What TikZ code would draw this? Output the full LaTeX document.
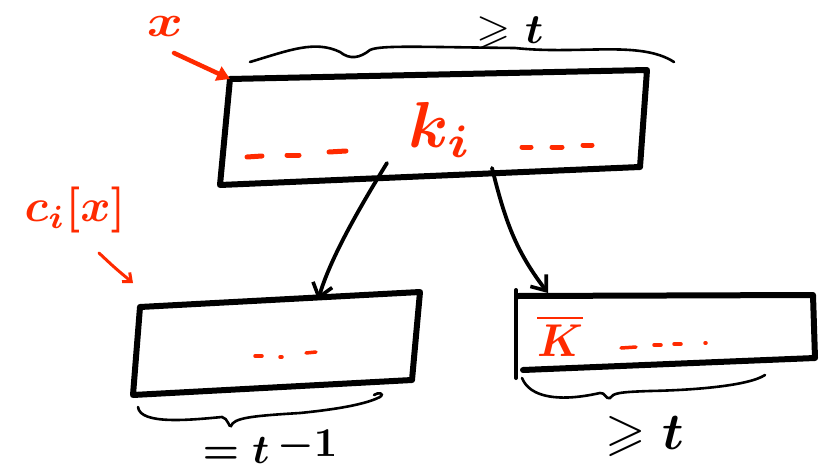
\documentclass[tikz,border=0pt]{standalone}
\usepackage{graphicx}
\usepackage{amssymb}
\usetikzlibrary{arrows.meta}
\definecolor{pen}{HTML}{FF2A00}
\tikzset{
  boxline/.style={line width=6pt, line join=round, line cap=round},
  link/.style={line width=3.8pt, line cap=round, -{Straight Barb[length=13pt,width=20pt,line width=3.6pt]}},
  redarrow/.style={pen, line width=4.5pt, line cap=round, -{Triangle[length=13pt,width=15pt]}},
  redsmall/.style={pen, line width=3pt, line cap=round, -{Straight Barb[length=7pt,width=12pt,line width=3pt]}},
  brace/.style={line width=2.6pt, line cap=round},
  reddash/.style={pen, line width=5pt, line cap=round},
  reddot/.style={pen, line width=3.5pt, line cap=round},
  redtxt/.style={text=pen, inner sep=1pt},
  blacktxt/.style={inner sep=1pt},
}
\newcommand{\hugetxt}[3]{\scalebox{#1}[#2]{$#3$}}
\begin{document}
\boldmath
\begin{tikzpicture}[x=1pt,y=-1pt]
\useasboundingbox (0,0) rectangle (825,474);
% top box
\coordinate (a1) at (230,79);
\coordinate (a2) at (647,70);
\coordinate (a3) at (640,167);
\coordinate (a4) at (220,185);
\draw[boxline] (a1) -- (a2) -- (a3) -- (a4) -- cycle;
% bottom-left box
\coordinate (b1) at (140,307);
\coordinate (b2) at (420,292);
\coordinate (b3) at (412,380);
\coordinate (b4) at (133,395);
\draw[boxline] (b1) -- (b2) -- (b3) -- (b4) -- cycle;
% bottom-right box
\coordinate (c1) at (518,296);
\coordinate (c2) at (813,295);
\coordinate (c3) at (815,358);
\coordinate (c4) at (523,370);
\draw[boxline] (c1) -- (c2) -- (c3) -- (c4);
\draw[line width=4pt, line cap=round] (516,290) -- (516,378);

% ellipsis dashes in the boxes
\draw[reddash] (247,157) -- (262,156);
\draw[reddash] (287,155) -- (299,155);
\draw[reddash] (329,152) -- (346,151);
\draw[reddash] (522,147) -- (531,147);
\draw[reddash] (552,147) -- (562,147);
\draw[reddash] (583,145) -- (592,145);
\draw[reddot] (255,356) -- (262,356);
\draw[reddot] (280,357) -- (282,357);
\draw[reddot] (306,353) -- (316,352);
\draw[reddot] (621,348) -- (636,347);
\draw[reddot] (654,345) -- (661,345);
\draw[reddot] (674,344) -- (681,344);
\draw[reddot] (705,343) -- (706,343);

% texts in boxes
\node[redtxt] (ki) at (440,130) {\hugetxt{6.5}{6.5}{k_i}};
\node[redtxt] (kbar) at (560,336) {\hugetxt{4.4}{4.6}{\overline{K}}};

% labels
\node[redtxt] (x) at (165,26) {\hugetxt{5.5}{4.5}{x}};
\node[redtxt] (cx) at (75,210) {\hugetxt{4.6}{4.6}{c_i[x]}};
\node[blacktxt] (g1) at (510,33) {\hugetxt{4.4}{4.2}{\geqslant t}};
\node[blacktxt] (e1) at (270,447) {\hugetxt{4.1}{4.1}{=t\,\raisebox{1.8pt}{$-1$}}};
\node[blacktxt] (g2) at (645,436) {\hugetxt{5.2}{5.2}{\geqslant t}};

% red arrows
\coordinate (xs) at (174,53);
\coordinate (cs) at (99,253);
\coordinate (ce) at (133,283);
\draw[redarrow] (xs) -- (a1);
\draw[redsmall] (cs) .. controls (115,268) .. (ce);

% connectors
\coordinate (l0) at (387,163);
\coordinate (l1) at (318,300);
\coordinate (r0) at (492,168);
\coordinate (r1) at (548,293);
\draw[link] (l0) .. controls (355,215) and (330,260) .. (l1);
\draw[link] (r0) .. controls (505,220) and (515,250) .. (r1);

% braces
\draw[brace] (250,62) .. controls (290,50) and (315,40) .. (340,52)
  .. controls (350,60) and (360,58) .. (370,50) .. controls (380,45) and (420,47) .. (515,48)
  .. controls (580,55) and (640,40) .. (674,62);
\draw[brace] (138,407) .. controls (140,425) and (190,420) .. (222,417)
  .. controls (228,418) and (229,428) .. (231,426) .. controls (234,418) and (250,416) .. (300,413)
  .. controls (350,408) and (370,402) .. (380,397) .. controls (385,393) and (378,392) .. (374,395);
\draw[brace] (522,378) .. controls (530,398) and (560,402) .. (600,393)
  .. controls (605,392) and (606,400) .. (610,398) .. controls (613,393) and (620,392) .. (650,391)
  .. controls (700,390) and (750,385) .. (765,375);
\end{tikzpicture}
\end{document}
